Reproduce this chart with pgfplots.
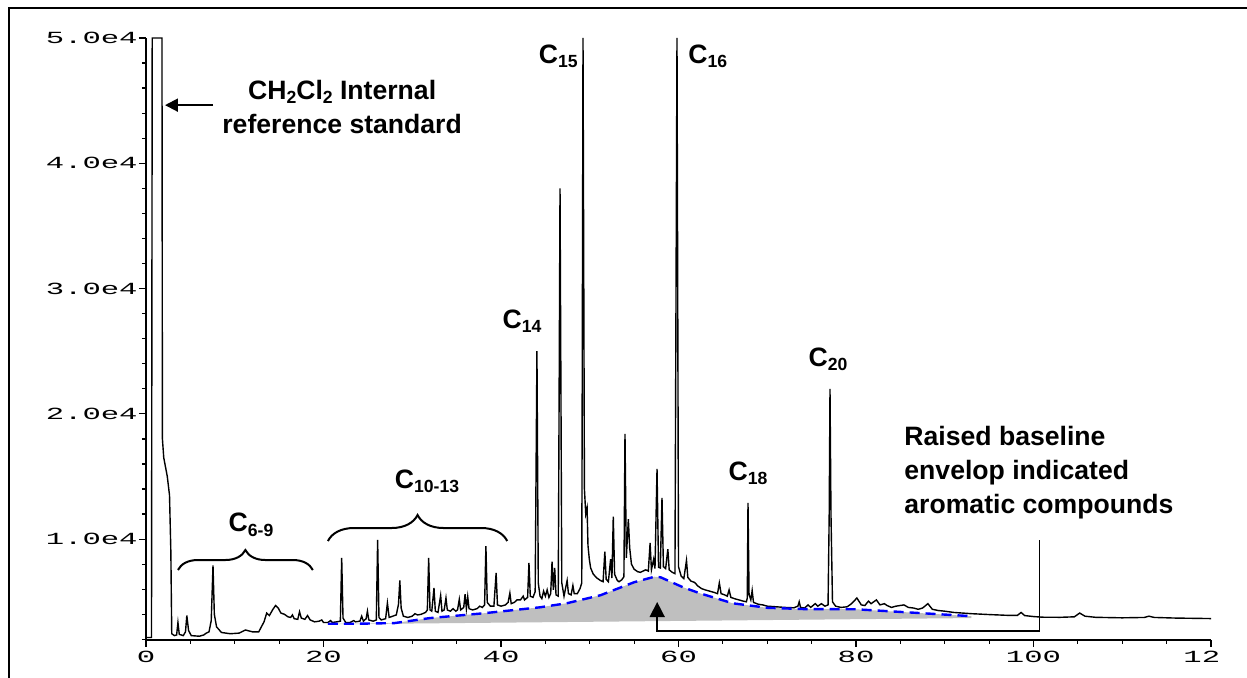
\documentclass[border=0pt]{standalone}
\usepackage{fontspec}
\setmainfont{Liberation Sans}
\newfontfamily\tickfont{Liberation Mono}
\usepackage{graphicx}
\usepackage{pgfplots}
\pgfplotsset{compat=1.18}
\usetikzlibrary{arrows.meta,decorations.pathreplacing}

% stretched plotter-style tick labels
\newcommand\tk[1]{\scalebox{1.8}[1]{\tickfont\fontsize{8.5}{8.5}\selectfont #1}}
\newcommand\lab{\bfseries\fontsize{13.3}{17}\selectfont}
\newcommand\sub[1]{\raisebox{-2.3pt}{\fontsize{8.8}{8.8}\selectfont #1}}

\begin{document}
\begin{tikzpicture}[x=1pt,y=1pt]
\path[use as bounding box] (-73,-19) rectangle (550.5,320);
\draw[line width=1pt] (-68.5,-25) -- (-68.5,316) -- (560,316);
\begin{axis}[
    at={(0,0)}, anchor=south west,
    scale only axis, width=532.5pt, height=301pt,
    xmin=0, xmax=120, ymin=1950, ymax=50000,
    axis x line*=bottom, axis y line*=left,
    axis line style={line width=0.7pt},
    xtick={0,20,...,120},
    xticklabels={\tk{0},\tk{20},\tk{40},\tk{60},\tk{80},\tk{100},\tk{12\phantom{0}}},
    minor xtick={5,10,15,25,30,35,45,50,55,65,70,75,85,90,95,105,110,115},
    ytick={10000,20000,30000,40000,50000},
    yticklabels={\tk{1.0e4},\tk{2.0e4},\tk{3.0e4},\tk{4.0e4},\tk{5.0e4}},
    scaled y ticks=false, scaled x ticks=false,
    minor ytick={2000,4000,6000,8000,12000,14000,16000,18000,22000,24000,26000,28000,32000,34000,36000,38000,42000,44000,46000,48000},
    tick align=outside,
    major tick length=3.5pt, minor tick length=2pt,
    tick style={line width=0.6pt, black},
    yticklabel style={inner xsep=0.5pt},
    xticklabel style={inner ysep=2pt},
    clip=false,
]
% raised baseline envelope (shaded)
\addplot[draw=none, fill=black!25] coordinates {
(20.5,3250) (24,3250) (28,3300) (32,3700) (38,4080) (44.4,4560) (47.4,4880)
(51.2,5520) (55,6560) (57.3,7000) (58,6950) (60.5,6160) (62.4,5680) (66.1,4880)
(70,4520) (74,4420) (80,4400) (86,4150) (93,3850) (93,3700) (20.5,3200)};

% chromatogram trace
\addplot[black, line width=0.7pt] coordinates {
(0.05,2150) (0.62,2150) (0.7,50000) (1.8,50000) (1.85,18000) (2.0,16500) (2.4,15000)
(2.65,13500) (2.8,9000) (2.9,2450) (3.2,2300) (3.45,2350) (3.6,3350) (3.75,2400)
(4.2,2300) (4.45,2600) (4.6,3900) (4.8,2700) (5.1,2300) (6,2250) (6.5,2350) (6.8,2500)
(7.1,2600) (7.35,3500) (7.55,7900) (7.7,4000) (7.95,3000) (8.5,2550) (9.5,2450)
(10.5,2500) (11.2,2750) (12,2600) (12.7,2600) (13.3,3400) (13.6,4100) (13.9,3900)
(14.3,4400) (14.6,4700) (14.9,4500) (15.2,4100) (15.6,4000) (16,3800) (16.3,3750)
(16.5,3950) (16.7,3650) (17.1,3600) (17.3,4200) (17.5,3700) (17.9,3600) (18.2,3900)
(18.5,3550) (19,3400) (19.5,3450) (19.8,3550) (20,3350) (20.5,3350) (20.8,3500)
(21,3350) (21.5,3400) (21.9,3450) (22.05,8500) (22.2,3700) (22.5,3350) (23,3350)
(23.4,3500) (23.6,3400) (24.1,3450) (24.3,3850) (24.5,3450) (24.8,3650) (24.95,4250)
(25.1,3550) (25.6,3450) (25.95,3550) (26.1,9950) (26.25,3750) (26.5,3550) (27,3650)
(27.2,4900) (27.4,3750) (27.8,3850) (28.2,3950) (28.45,4800) (28.6,6700) (28.75,4500)
(29,3850) (29.5,3750) (30,3850) (30.3,4050) (30.6,3950) (31,4000) (31.5,4150)
(31.7,4350) (31.85,8500) (32,4350) (32.2,4250) (32.45,6100) (32.6,4250) (32.9,4150)
(33.2,5500) (33.35,4250) (33.6,4350) (33.8,5300) (33.95,4350) (34.3,4250) (34.6,4450)
(34.9,4250) (35.1,4350) (35.3,5200) (35.45,4350) (35.8,4550) (35.95,5600) (36.1,4450)
(36.25,5400) (36.4,4450) (36.8,4350) (37.3,4450) (37.6,4650) (37.9,4550) (38.15,4750)
(38.3,9450) (38.45,4950) (38.8,4650) (39.2,4650) (39.45,7300) (39.6,4750) (40,4650)
(40.5,4750) (40.8,4950) (41.0,5700) (41.15,4850) (41.5,4950) (41.8,5150) (42.2,5150)
(42.5,5450) (42.65,5150) (43,5350) (43.15,8100) (43.3,5450) (43.6,5350) (43.85,5800)
(44.05,25000) (44.2,6500) (44.4,5450) (44.6,5250) (44.8,5850) (45,5450) (45.2,5950)
(45.4,5350) (45.6,5650) (45.75,8200) (45.9,5950) (46.05,7700) (46.2,5550) (46.45,5450)
(46.65,38000) (46.85,6500) (47.1,5450) (47.45,6700) (47.6,5650) (47.9,5550) (48.1,6300)
(48.25,5650) (48.6,5650) (48.9,6050) (49.1,6500) (49.24,50000) (49.4,14000) (49.55,12000)
(49.7,12500) (49.8,9500) (49.95,8400) (50.1,7700) (50.4,7200) (50.8,6900) (51.2,6700)
(51.5,6600) (51.7,9000) (51.85,6800) (52.1,6600) (52.35,8400) (52.5,6900) (52.65,11800)
(52.8,7200) (53.1,6700) (53.3,6600) (53.6,6750) (53.85,7000) (53.97,18400) (54.12,8500)
(54.35,11600) (54.5,9300) (54.7,8000) (55,7600) (55.4,7400) (55.7,7350) (56,7450)
(56.3,7550) (56.6,7450) (56.8,9700) (56.95,7550) (57.2,8400) (57.35,7650) (57.58,15600)
(57.75,7750) (57.95,7700) (58.14,13300) (58.3,7800) (58.55,7650) (58.8,9200) (58.95,7550)
(59.3,7350) (59.6,7250) (59.83,50000) (60.0,7800) (60.3,7050) (60.6,6850) (60.9,8300)
(61.05,6950) (61.4,6650) (61.8,6550) (62.2,6250) (62.6,6050) (63,5950) (63.5,5850)
(64,5750) (64.4,5650) (64.6,6500) (64.8,5650) (65.2,5550) (65.5,5450) (65.7,5950)
(65.9,5350) (66.3,5250) (66.8,5150) (67.3,5050) (67.65,5000) (67.75,5300) (67.83,12900)
(67.95,5600) (68.15,5150) (68.3,5900) (68.45,4950) (69,4800) (69.5,4750) (70,4650)
(71,4600) (72,4550) (73,4520) (73.45,4650) (73.6,5000) (73.75,4550) (74.2,4500)
(74.6,4750) (74.9,4550) (75.4,4850) (75.7,4650) (76.1,4850) (76.5,4650) (76.85,4750)
(76.98,12000) (77.07,22000) (77.18,12000) (77.35,5000) (77.7,4650) (78.3,4550) (79,4600)
(79.5,4850) (80.1,5300) (80.6,4750) (81,4700) (81.4,5050) (81.7,4850) (82.3,5150)
(82.7,4750) (83.2,4850) (83.5,4700) (84,4550) (84.5,4650) (85.4,4750) (85.9,4550)
(86.5,4500) (87,4400) (87.5,4500) (88.1,4850) (88.6,4400) (89.3,4300) (90,4250)
(91,4150) (92,4100) (93,4050) (95,3980) (97,3920) (98.2,3920) (98.6,4150) (99,3900)
(100,3820) (101,3770) (103,3760) (104.6,3800) (105.2,4100) (105.8,3850) (107,3760)
(110,3720) (112.5,3750) (113,3850) (113.6,3750) (116,3700) (120,3660)};

% dashed envelope line
\addplot[blue, line width=1.2pt, dash pattern=on 5pt off 3pt] coordinates {
(20.5,3250) (24,3250) (28,3300) (32,3700) (38,4080) (44.4,4560) (47.4,4880)
(51.2,5520) (55,6560) (57.3,7000) (58,6950) (60.5,6160) (62.4,5680) (66.1,4880)
(70,4520) (74,4420) (80,4400) (86,4150) (93,3850)};

% annotations
\draw[line width=1pt, -{Triangle[length=6.5pt,width=6.5pt]}]
    (axis cs:7.55,44640) -- (axis cs:2.14,44640);
\node[anchor=base, font=\lab, inner sep=0pt] at (axis cs:22.1,45120) {CH\sub{2}Cl\sub{2} Internal};
\node[anchor=base, font=\lab, inner sep=0pt] at (axis cs:22.1,42410) {reference standard};

\node[anchor=base east, font=\lab, inner sep=0pt] at (axis cs:48.68,48000) {C\sub{15}};
\node[anchor=base west, font=\lab, inner sep=0pt] at (axis cs:61.07,48000) {C\sub{16}};
\node[anchor=base, font=\lab, inner sep=0pt] at (axis cs:42.37,26850) {C\sub{14}};
\node[anchor=base, font=\lab, inner sep=0pt] at (axis cs:76.85,23815) {C\sub{20}};
\node[anchor=base, font=\lab, inner sep=0pt] at (axis cs:67.83,14720) {C\sub{18}};
\node[anchor=base, font=\lab, inner sep=0pt] at (axis cs:31.66,14080) {C\sub{10-13}};
\node[anchor=base, font=\lab, inner sep=0pt] at (axis cs:11.83,10570) {C\sub{6-9}};

\draw[line width=1pt, decorate, decoration={brace, amplitude=10pt}]
    (axis cs:3.6,7536) -- (axis cs:18.8,7536);
\draw[line width=1pt, decorate, decoration={brace, amplitude=13pt}]
    (axis cs:20.5,9850) -- (axis cs:40.7,9850);

\node[anchor=base west, font=\lab, inner sep=0pt] at (axis cs:85.41,17510) {Raised baseline};
\node[anchor=base west, font=\lab, inner sep=0pt] at (axis cs:85.41,14800) {envelop indicated};
\node[anchor=base west, font=\lab, inner sep=0pt] at (axis cs:85.41,12085) {aromatic compounds};

\draw[line width=0.75pt, -{Triangle[length=7.5pt,width=7.5pt]}]
    (axis cs:100.7,9930) -- (axis cs:100.7,2668) -- (axis cs:57.6,2668) -- (axis cs:57.6,4982);
\end{axis}
\end{tikzpicture}
\end{document}
